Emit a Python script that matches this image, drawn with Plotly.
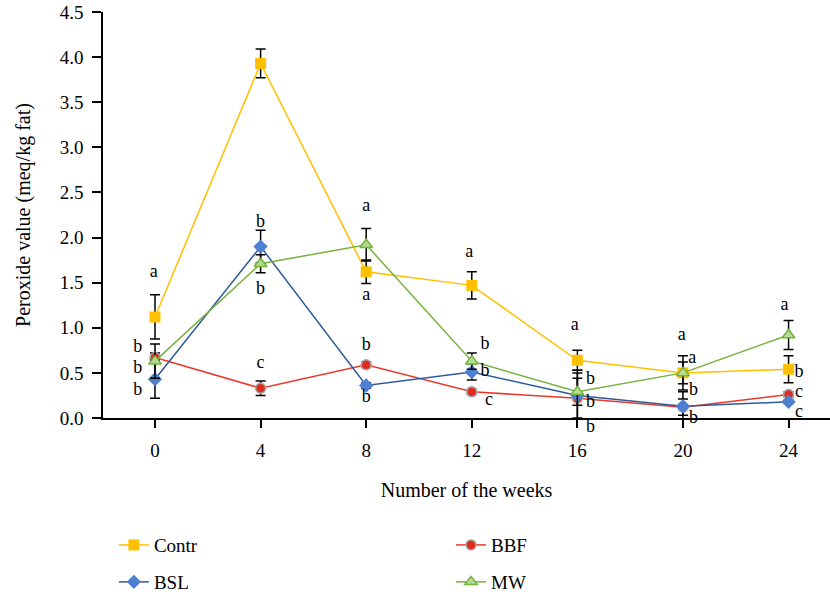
import plotly.graph_objects as go

weeks = [0, 4, 8, 12, 16, 20, 24]
tick_labels = ["0", "4", "8", "12", "16", "20", "24"]

contr = [1.12, 3.93, 1.62, 1.47, 0.64, 0.50, 0.54]
contr_err = [0.245, 0.16, 0.13, 0.15, 0.11, 0.19, 0.15]

bbf = [0.67, 0.33, 0.59, 0.29, 0.22, 0.12, 0.26]
bbf_err = [0.05, 0.08, 0.03, 0.03, 0.31, 0.09, 0.03]

bsl = [0.43, 1.90, 0.36, 0.51, 0.25, 0.13, 0.18]
bsl_err = [0.21, 0.18, 0.03, 0.09, 0.25, 0.16, 0.02]

mw = [0.63, 1.71, 1.92, 0.63, 0.29, 0.50, 0.92]
mw_err = [0.19, 0.10, 0.18, 0.09, 0.15, 0.12, 0.16]

# significance letters (inside the plot area)
label_x = [-0.05, -0.65, -0.65, -0.65,
           4.0, 4.0, 4.0,
           8.0, 8.0, 8.0, 8.0,
           11.9, 12.5, 12.5, 12.65,
           15.9, 16.5, 16.5,
           19.95, 20.35, 20.4, 20.4,
           23.85, 24.4, 24.4, 24.4]
label_y = [1.61, 0.78, 0.55, 0.31,
           2.17, 1.42, 0.60,
           2.34, 1.36, 0.80, 0.23,
           1.83, 0.82, 0.52, 0.19,
           1.03, 0.43, 0.17,
           0.92, 0.66, 0.31, 0.0,
           1.25, 0.50, 0.28, 0.06]
label_text = ["a", "b", "b", "b",
              "b", "b", "c",
              "a", "a", "b", "b",
              "a", "b", "b", "c",
              "a", "b", "b",
              "a", "a", "b", "b",
              "a", "b", "c", "c"]

# letters hanging just below the x axis
below_x = [16.5]
below_y = [0.0]
below_text = ["b"]

FONT = "Liberation Serif"

fig = go.Figure()

def err(arr):
    return dict(type="data", array=arr, visible=True, color="black", thickness=1.5, width=5)

fig.add_trace(go.Scatter(
    x=weeks, y=contr, name="Contr", mode="lines+markers", legend="legend",
    line=dict(color="#FFC000", width=1.5), cliponaxis=False,
    marker=dict(symbol="square", size=11, color="#FFC000", line=dict(width=0)),
    error_y=err(contr_err)))
fig.add_trace(go.Scatter(
    x=weeks, y=bbf, name="BBF", mode="lines+markers", legend="legend2",
    line=dict(color="#E8392B", width=1.5), cliponaxis=False,
    marker=dict(symbol="circle", size=10, color="#E02A1C", line=dict(width=1.5, color="#A8A8A8")),
    error_y=err(bbf_err)))
fig.add_trace(go.Scatter(
    x=weeks, y=bsl, name="BSL", mode="lines+markers", legend="legend3",
    line=dict(color="#2E5A9A", width=1.5), cliponaxis=False,
    marker=dict(symbol="diamond", size=11, color="#4F7FD0", line=dict(width=0)),
    error_y=err(bsl_err)))
fig.add_trace(go.Scatter(
    x=weeks, y=mw, name="MW", mode="lines+markers", legend="legend4",
    line=dict(color="#74B23C", width=1.5), cliponaxis=False,
    marker=dict(symbol="triangle-up", size=11, color="#B5DA94", line=dict(width=1.5, color="#74B23C")),
    error_y=err(mw_err)))

fig.add_trace(go.Scatter(
    x=label_x, y=label_y, text=label_text, mode="text", showlegend=False,
    textfont=dict(family=FONT, size=18, color="black"), textposition="middle center",
    cliponaxis=False, hoverinfo="skip"))
fig.add_trace(go.Scatter(
    x=below_x, y=below_y, text=below_text, mode="text", showlegend=False,
    textfont=dict(family=FONT, size=18, color="black"), textposition="bottom center",
    cliponaxis=False, hoverinfo="skip"))

def leg(x, y):
    return dict(orientation="h", x=x, xanchor="left", y=y, yanchor="middle",
                font=dict(size=19), bgcolor="rgba(0,0,0,0)")

fig.update_layout(
    width=830, height=597,
    margin=dict(l=103, r=0, t=12, b=179, autoexpand=False),
    plot_bgcolor="white", paper_bgcolor="white",
    font=dict(family=FONT, size=19, color="black"),
    xaxis=dict(
        range=[-1.97, 25.57], tickvals=weeks, ticktext=tick_labels,
        showline=True, linecolor="black", linewidth=1.5,
        ticks="outside", ticklen=8, tickwidth=1.5, tickcolor="black",
        showgrid=False, zeroline=False, ticklabelstandoff=6, automargin=False,
        title=dict(text="Number of the weeks", font=dict(size=20), standoff=23)),
    yaxis=dict(
        range=[0, 4.5], tickvals=[0, 0.5, 1, 1.5, 2, 2.5, 3, 3.5, 4, 4.5],
        ticktext=["0.0", "0.5", "1.0", "1.5", "2.0", "2.5", "3.0", "3.5", "4.0", "4.5"],
        showline=True, linecolor="black", linewidth=1.5,
        ticks="outside", ticklen=9, tickwidth=1.5, tickcolor="black",
        showgrid=False, zeroline=False, ticklabelstandoff=5, automargin=False,
        title=dict(text="Peroxide value (meq/kg fat)", font=dict(size=20), standoff=24)),
    legend=leg(0.015, -0.313),
    legend2=leg(0.4787, -0.313),
    legend3=leg(0.015, -0.404),
    legend4=leg(0.4787, -0.404),
)

fig.write_html("out.html", config={"displayModeBar": False},
               post_script="document.body.style.margin='0';")
